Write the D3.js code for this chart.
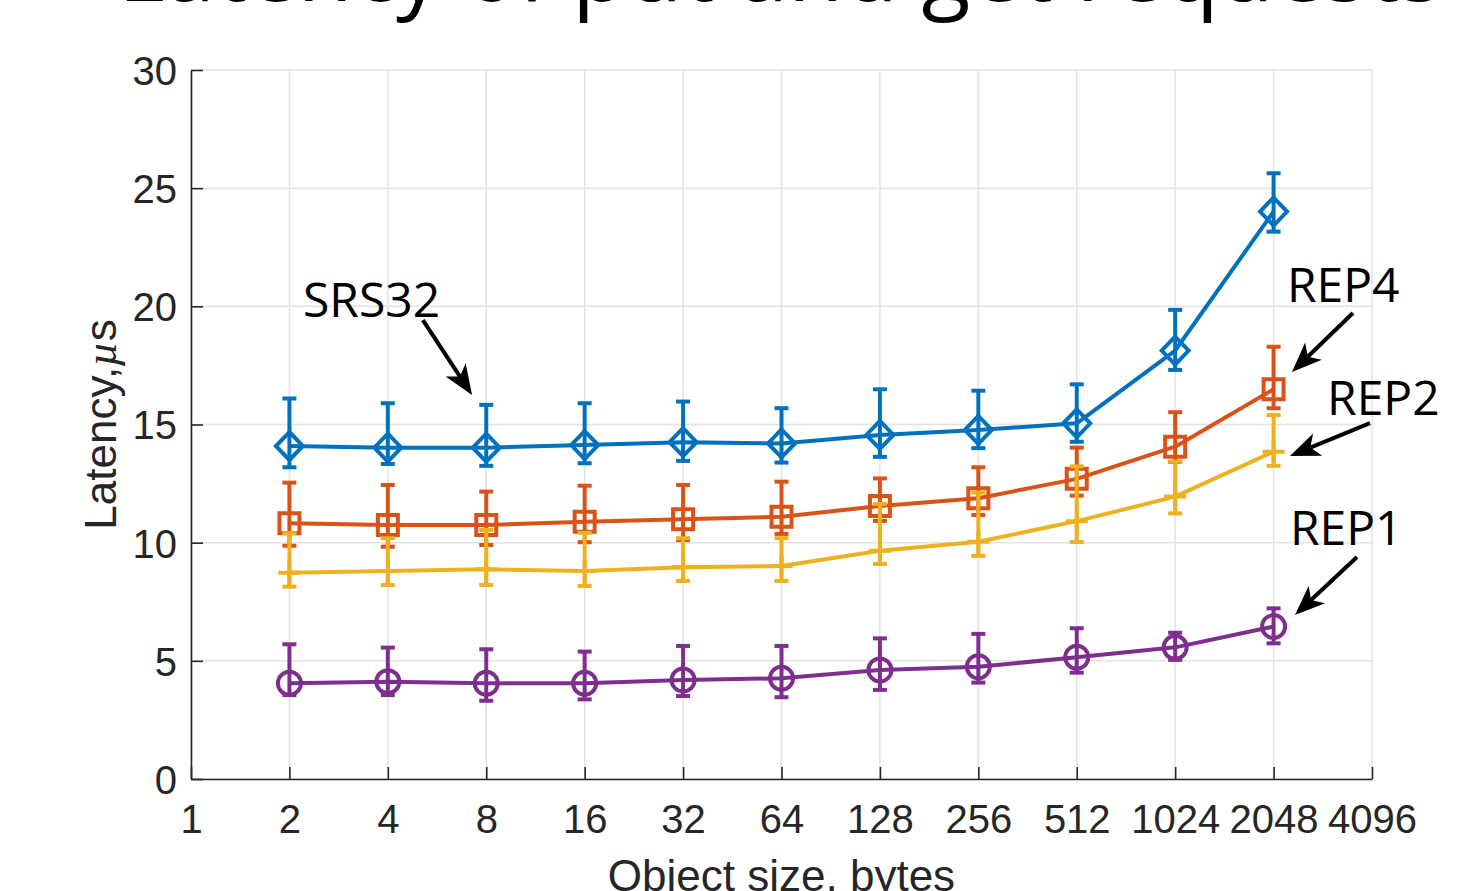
<!DOCTYPE html>
<html>
<head>
<meta charset="utf-8">
<script src="https://cdn.jsdelivr.net/npm/d3@7"></script>
<style>
  html, body { margin: 0; padding: 0; background: #fff; overflow: hidden; }
  svg { display: block; }
</style>
</head>
<body>
<svg id="chart" width="1464" height="891"></svg>
<script>
// Object sizes (bytes) on a log2 axis
const sizes = [2, 4, 8, 16, 32, 64, 128, 256, 512, 1024, 2048];
const xTicks = [1, 2, 4, 8, 16, 32, 64, 128, 256, 512, 1024, 2048, 4096];
const yTicks = [0, 5, 10, 15, 20, 25, 30];

// Mean latency (µs) and error-bar bounds per configuration
const srs32   = [14.09, 14.02, 14.02, 14.13, 14.25, 14.20, 14.56, 14.77, 15.05, 18.13, 24.01];
const srs32Lo = [13.19, 13.33, 13.25, 13.36, 13.46, 13.39, 13.63, 14.00, 14.27, 17.31, 23.16];
const srs32Hi = [16.10, 15.90, 15.83, 15.90, 15.97, 15.69, 16.49, 16.43, 16.70, 19.85, 25.63];

const rep4    = [10.82, 10.75, 10.75, 10.89, 10.99, 11.10, 11.55, 11.88, 12.70, 14.06, 16.49];
const rep4Lo  = [9.87, 9.83, 9.90, 10.02, 10.11, 10.37, 10.92, 11.17, 11.99, 13.42, 15.69];
const rep4Hi  = [12.54, 12.44, 12.16, 12.41, 12.44, 12.58, 12.72, 13.19, 14.02, 15.52, 18.29];

const rep2    = [8.73, 8.80, 8.87, 8.80, 8.96, 9.01, 9.66, 10.04, 10.91, 11.95, 13.85];
const rep2Lo  = [8.14, 8.21, 8.21, 8.17, 8.38, 8.38, 9.10, 9.44, 10.03, 11.24, 13.25];
const rep2Hi  = [10.40, 10.19, 10.54, 10.42, 10.19, 10.19, 11.64, 12.12, 13.23, 13.43, 15.40];

const rep1    = [4.05, 4.12, 4.05, 4.05, 4.19, 4.26, 4.61, 4.75, 5.15, 5.57, 6.45];
const rep1Lo  = [3.55, 3.55, 3.31, 3.37, 3.51, 3.46, 3.77, 4.08, 4.50, 5.04, 5.74];
const rep1Hi  = [5.70, 5.56, 5.49, 5.39, 5.63, 5.63, 5.95, 6.14, 6.38, 6.19, 7.22];

const seriesNames = ["SRS32", "REP4", "REP2", "REP1"];
const seriesColors = ["#0072BD", "#D95319", "#EDB120", "#7E2F8E"];
const seriesMarkers = ["diamond", "square", "plus", "circle"];

// Text labels with arrows pointing at the curves (data coordinates)
const labelText = ["SRS32", "REP4", "REP2", "REP1"];
const labelPos  = [[2.20, 19.55], [2250, 20.18], [2984, 15.40], [2298, 9.90]];
const arrowFrom = [[5.12, 19.42], [3581, 19.72], [4037, 15.06], [3685, 9.39]];
const arrowTo   = [[7.24, 16.25], [2331, 17.22], [2298, 13.67], [2381, 6.94]];

const svg = d3.select("#chart");
const plotLeft = 191, plotRight = 1372, plotTop = 70, plotBottom = 779;

const x = d3.scaleLog().base(2).domain([1, 4096]).range([plotLeft, plotRight]);
const y = d3.scaleLinear().domain([0, 30]).range([plotBottom, plotTop]);

const axisColor = "#262626";
const tickFont = "'Liberation Sans', Arial, Helvetica, sans-serif";
const labelFont = "'Open Sans', 'Noto Sans', sans-serif";

// Title (runs off the top edge)
svg.append("text")
  .attr("x", 118).attr("y", 1)
  .attr("font-family", labelFont)
  .attr("font-size", 90)
  .attr("fill", "#000")
  .text("Latency of put and get requests");

// Grid
const grid = svg.append("g");
grid.selectAll("line.gx").data(xTicks).join("line")
  .attr("x1", d => x(d)).attr("x2", d => x(d))
  .attr("y1", plotTop).attr("y2", plotBottom)
  .attr("stroke", "#e3e3e3").attr("stroke-width", 1.5);
grid.selectAll("line.gy").data(yTicks).join("line")
  .attr("x1", plotLeft).attr("x2", plotRight)
  .attr("y1", d => y(d)).attr("y2", d => y(d))
  .attr("stroke", "#e3e3e3").attr("stroke-width", 1.5);

// Axes (ticks point inward)
const xAxis = d3.axisBottom(x).tickValues(xTicks).tickFormat(d3.format("d"))
  .tickSizeInner(-12).tickSizeOuter(0).tickPadding(26);
const gx = svg.append("g").attr("transform", `translate(0,${plotBottom})`).call(xAxis);
const yAxis = d3.axisLeft(y).tickValues(yTicks)
  .tickSizeInner(-12).tickSizeOuter(0).tickPadding(14);
const gy = svg.append("g").attr("transform", `translate(${plotLeft},0)`).call(yAxis);

[gx, gy].forEach(g => {
  g.select(".domain").attr("stroke", axisColor).attr("stroke-width", 1.6);
  g.selectAll(".tick line").attr("stroke", axisColor).attr("stroke-width", 1.6);
  g.selectAll(".tick text")
    .attr("fill", axisColor)
    .attr("font-family", tickFont)
    .attr("font-size", 40);
});
gx.selectAll(".tick text").attr("dy", "0.71em");
gy.selectAll(".tick text").attr("dy", "0.36em");

// Axis titles
svg.append("text")
  .attr("transform", `translate(116,${(plotTop + plotBottom) / 2}) rotate(-90)`)
  .attr("text-anchor", "middle")
  .attr("font-family", tickFont)
  .attr("font-size", 44)
  .attr("fill", axisColor)
  .call(t => {
    t.append("tspan").text("Latency,");
    t.append("tspan").attr("font-family", "'Liberation Serif', 'DejaVu Serif', serif")
      .attr("font-style", "italic").text("µ");
    t.append("tspan").text("s");
  });

svg.append("text")
  .attr("x", (plotLeft + plotRight) / 2).attr("y", 891)
  .attr("text-anchor", "middle")
  .attr("font-family", tickFont)
  .attr("font-size", 44)
  .attr("fill", axisColor)
  .text("Object size, bytes");

// Series
const allSeries = [
  { mean: srs32, lo: srs32Lo, hi: srs32Hi },
  { mean: rep4, lo: rep4Lo, hi: rep4Hi },
  { mean: rep2, lo: rep2Lo, hi: rep2Hi },
  { mean: rep1, lo: rep1Lo, hi: rep1Hi }
];

const line = d3.line().x(d => x(d.size)).y(d => y(d.v));
const capHalf = 7;

allSeries.forEach((s, i) => {
  const color = seriesColors[i];
  const pts = sizes.map((sz, k) => ({ size: sz, v: s.mean[k], lo: s.lo[k], hi: s.hi[k] }));
  const g = svg.append("g").attr("class", "series-" + seriesNames[i]);

  g.append("path").datum(pts)
    .attr("d", line).attr("fill", "none")
    .attr("stroke", color).attr("stroke-width", 4)
    .attr("stroke-linejoin", "round");

  // Error bars
  const eb = g.selectAll("g.eb").data(pts).join("g");
  eb.append("line")
    .attr("x1", d => x(d.size)).attr("x2", d => x(d.size))
    .attr("y1", d => y(d.lo)).attr("y2", d => y(d.hi))
    .attr("stroke", color).attr("stroke-width", 4);
  ["lo", "hi"].forEach(key => {
    eb.append("line")
      .attr("x1", d => x(d.size) - capHalf).attr("x2", d => x(d.size) + capHalf)
      .attr("y1", d => y(d[key])).attr("y2", d => y(d[key]))
      .attr("stroke", color).attr("stroke-width", 4);
  });

  // Markers
  const m = seriesMarkers[i];
  const mk = g.selectAll("path.mk").data(pts).join("path")
    .attr("fill", "none").attr("stroke", color).attr("stroke-width", 4)
    .attr("stroke-linejoin", "miter")
    .attr("transform", d => `translate(${x(d.size)},${y(d.v)})`);
  if (m === "diamond") mk.attr("d", "M0,-14L13.5,0L0,14L-13.5,0Z");
  if (m === "square") mk.attr("d", "M-10,-10H10V10H-10Z");
  if (m === "circle") mk.attr("d", d3.arc()({ innerRadius: 0, outerRadius: 11.5, startAngle: 0, endAngle: 2 * Math.PI }));
  if (m === "plus") mk.attr("d", "M-11,0H11M0,-11V11");
});

// Annotation labels with arrows
const ann = svg.append("g");
labelText.forEach((txt, i) => {
  ann.append("text")
    .attr("x", x(labelPos[i][0])).attr("y", y(labelPos[i][1]))
    .attr("font-family", labelFont)
    .attr("font-size", 48)
    .attr("fill", "#000")
    .text(txt);

  const x0 = x(arrowFrom[i][0]), y0 = y(arrowFrom[i][1]);
  const x1 = x(arrowTo[i][0]), y1 = y(arrowTo[i][1]);
  const ang = Math.atan2(y1 - y0, x1 - x0);
  const headLen = 30, headW = 12, notch = 22;
  const ux = Math.cos(ang), uy = Math.sin(ang);
  const px = -uy, py = ux;
  const bx = x1 - ux * headLen, by = y1 - uy * headLen;
  const nx = x1 - ux * notch, ny = y1 - uy * notch;

  ann.append("line")
    .attr("x1", x0).attr("y1", y0).attr("x2", nx).attr("y2", ny)
    .attr("stroke", "#000").attr("stroke-width", 4);
  ann.append("path")
    .attr("d", `M${x1},${y1}L${bx + px * headW},${by + py * headW}L${nx},${ny}L${bx - px * headW},${by - py * headW}Z`)
    .attr("fill", "#000");
});
</script>
</body>
</html>
